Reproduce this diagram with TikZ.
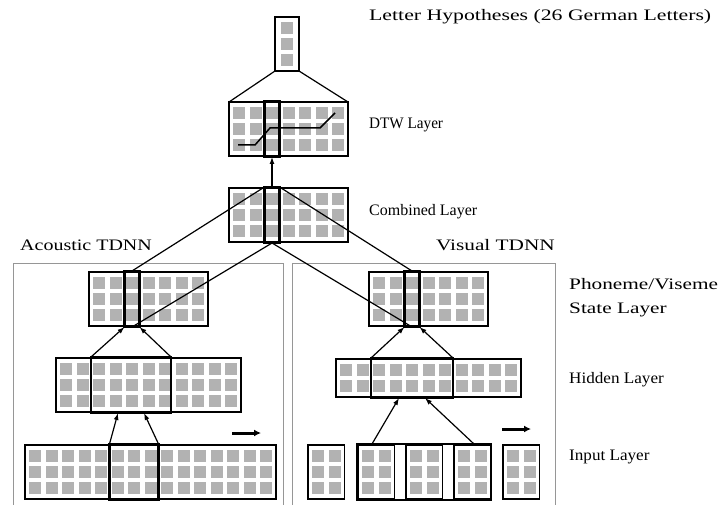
\documentclass[tikz,border=0pt]{standalone}
\usepackage{fontspec}
\usepackage{graphicx}
\setmainfont{Liberation Serif}
\usetikzlibrary{arrows.meta}
\definecolor{cellgray}{RGB}{178,178,178}
\definecolor{framegray}{RGB}{150,150,150}
% grey cells of a layer: x, y of the box corner, columns, rows
\newcommand{\cellgrid}[4]{%
  \foreach \i in {1,...,#3}
    \foreach \j in {1,...,#4}
      \fill[cellgray] ({#1+4+(\i-1)*16.5},{#2+5+(\j-1)*16}) rectangle ++(12,12);}
% text widened as in the scan
\newcommand{\wide}[2]{\scalebox{#1}[1]{#2}}
\tikzset{
  layer/.style={draw, line width=1.1pt, anchor=north west, inner sep=0pt, outer sep=0pt, minimum height=54pt},
  window/.style={draw, line width=2.6pt, inner sep=0pt, outer sep=0pt},
  link/.style={line width=1.2pt},
  feed/.style={line width=1.2pt, -{Latex[length=7pt,width=5pt]}},
  shiftarrow/.style={line width=3pt, -{Latex[length=7pt,width=7pt]}},
  laytext/.style={anchor=west, inner sep=0pt, font=\fontsize{16}{24}\selectfont, align=left},
  frame/.style={draw=framegray, line width=0.9pt}
}
\begin{document}
\begin{tikzpicture}[x=1pt,y=-1pt]
\useasboundingbox (0,0) rectangle (720,505);
% cells
\foreach \r in {0,1,2} \fill[cellgray] (281,{22+\r*16}) rectangle ++(12,12);
\cellgrid{229}{102}{7}{3}
\cellgrid{229}{188}{7}{3}
\cellgrid{89}{272}{7}{3}
\cellgrid{369}{272}{7}{3}
\cellgrid{56}{358}{11}{3}
\cellgrid{336}{359}{11}{2}
\cellgrid{25}{445}{15}{3}
\foreach \x in {308,358,406,454,503} \cellgrid{\x}{445}{2}{3}
% panels
\draw[frame] (13,506) |- (283,263) -- (283,506);
\draw[frame] (292,506) |- (555,263) -- (555,506);
% layers
\node[layer, minimum width=24pt] (top) at (275,17) {};
\node[layer, minimum width=119pt] (dtw) at (229,102) {};
\node[layer, minimum width=119pt] (comb) at (229,188) {};
\node[layer, minimum width=119pt] (aphon) at (89,272) {};
\node[layer, minimum width=119pt] (vphon) at (369,272) {};
\node[layer, minimum width=185pt] (ahid) at (56,358) {};
\node[layer, minimum width=185pt, minimum height=38pt] (vhid) at (336,359) {};
\node[layer, minimum width=251pt] (ainp) at (25,445) {};
\node[layer, minimum width=36.5pt] (vinl) at (308,445) {};
\node[layer, minimum width=36.5pt] (vin1) at (358,445) {};
\node[layer, minimum width=36.5pt] (vin2) at (406,445) {};
\node[layer, minimum width=36.5pt] (vin3) at (454,445) {};
\node[layer, minimum width=36.5pt] (vinr) at (503,445) {};
% windows
\node[window, minimum width=15pt, minimum height=56pt] (dtwcol) at (272,129) {};
\node[window, minimum width=15pt, minimum height=56pt] (combcol) at (272,215) {};
\node[window, minimum width=15pt, minimum height=56pt] (apcol) at (132,299) {};
\node[window, minimum width=15pt, minimum height=56pt] (vpcol) at (412,299) {};
\node[window, minimum width=80pt, minimum height=56pt] (ahwin) at (131,385) {};
\node[window, minimum width=82pt, minimum height=40pt] (vhwin) at (412,378) {};
\node[window, minimum width=49pt, minimum height=56pt] (aiwin) at (134,472) {};
\node[window, minimum width=134pt, minimum height=56pt] (viwin) at (424,472) {};
% time warping path
\draw[link, line width=1.5pt] (238,145) -- (255,145) -- (270,128) -- (320,128) -- (335,113);
% connections
\draw[link] (top.south west) -- (dtw.north west);
\draw[link] (top.south east) -- (dtw.north east);
\draw[feed] (combcol.north) -- (dtwcol.south);
\draw[link] (combcol.north west) -- (apcol.north);
\draw[link] (combcol.north east) -- (vpcol.north);
\draw[link] (combcol.south) -- (apcol.south);
\draw[link] (combcol.south) -- (vpcol.south);
\draw[feed] (ahwin.north west) -- (apcol.south west);
\draw[feed] (ahwin.north east) -- (apcol.south east);
\draw[feed] (vhwin.north west) -- (vpcol.south west);
\draw[feed] (vhwin.north east) -- (vpcol.south east);
\draw[feed] (aiwin.north west) -- ([xshift=-13pt]ahwin.south);
\draw[feed] (aiwin.north east) -- ([xshift=13pt]ahwin.south);
\draw[feed] ([xshift=-52pt]viwin.north) -- ([xshift=-13pt]vhwin.south);
\draw[feed] ([xshift=50pt]viwin.north) -- ([xshift=13pt]vhwin.south);
% time shift
\coordinate (as1) at (232,433);
\coordinate (as2) at (261,433);
\coordinate (vs1) at (502,429);
\coordinate (vs2) at (531,429);
\draw[shiftarrow] (as1) -- (as2);
\draw[shiftarrow] (vs1) -- (vs2);
% labels
\node[laytext] (tletter) at (369,17) {\wide{1.36}{Letter Hypotheses (26 German Letters)}};
\node[laytext] (tdtw) at (369,125) {\wide{0.95}{DTW Layer}};
\node[laytext] (tcomb) at (369,212) {Combined Layer};
\node[laytext] (tphon) at (569,298) {\wide{1.33}{Phoneme/Viseme}\\\wide{1.33}{State Layer}};
\node[laytext] (thid) at (569,380) {\wide{1.07}{Hidden Layer}};
\node[laytext] (tinp) at (569,457) {\wide{1.07}{Input Layer}};
\node[laytext] (tac) at (20,245) {\wide{1.25}{Acoustic TDNN}};
\node[laytext, anchor=east] (tvis) at (555,245) {\wide{1.33}{Visual TDNN}};
\end{tikzpicture}
\end{document}
